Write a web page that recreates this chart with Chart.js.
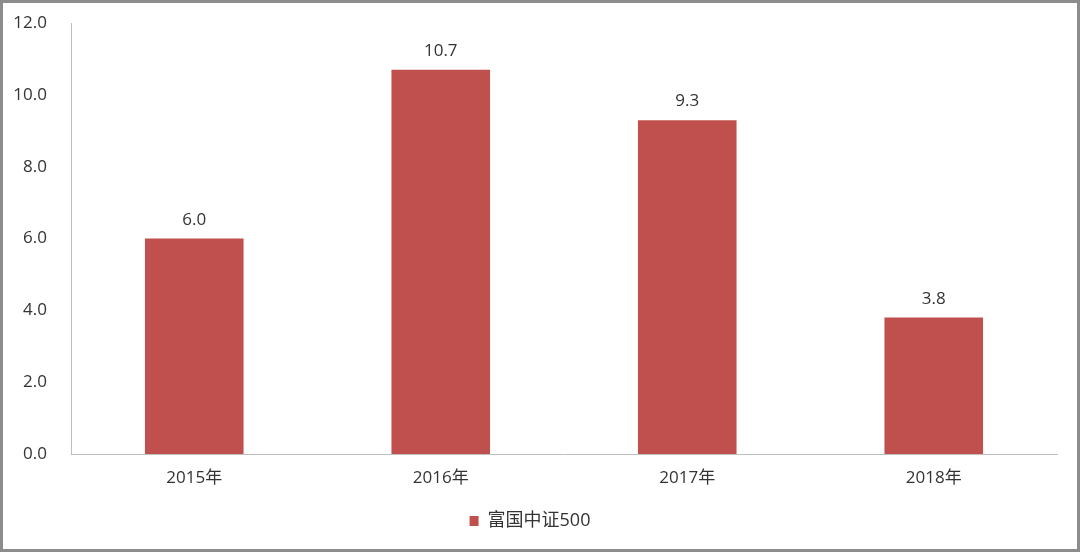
<!DOCTYPE html>
<html>
<head>
<meta charset="utf-8">
<script src="https://cdn.jsdelivr.net/npm/chart.js@4/dist/chart.umd.min.js"></script>
<style>
html,body{margin:0;padding:0;background:#fff;}
#wrap{width:1080px;height:552px;box-sizing:border-box;border:3px solid #8c8c8c;background:#fff;overflow:hidden;}
#c{display:block;margin-top:-6px;}
</style>
</head>
<body>
<div id="wrap"><canvas id="c" width="1074" height="552"></canvas></div>
<script>
const categories = ["2015年", "2016年", "2017年", "2018年"];
const seriesName = "富国中证500";
const values = [6.0, 10.7, 9.3, 3.8];
const yMin = 0, yMax = 12, yStep = 2;

const FONT = '"Open Sans", "Noto Sans CJK SC", sans-serif';
const TXT = '#333333';

const valueLabels = {
  id: 'valueLabels',
  afterDatasetsDraw(chart) {
    const ctx = chart.ctx;
    const meta = chart.getDatasetMeta(0);
    ctx.save();
    ctx.font = '17px ' + FONT;
    ctx.fillStyle = TXT;
    ctx.textAlign = 'center';
    ctx.textBaseline = 'bottom';
    meta.data.forEach((bar, i) => {
      ctx.fillText(values[i].toFixed(1), bar.x, bar.y - 10);
    });
    ctx.restore();
  }
};

new Chart(document.getElementById('c'), {
  type: 'bar',
  data: {
    labels: categories,
    datasets: [{
      label: seriesName,
      data: values,
      backgroundColor: '#C0504D',
      borderWidth: 0,
      categoryPercentage: 0.8,
      barPercentage: 0.5
    }]
  },
  options: {
    responsive: false,
    animation: false,
    layout: { padding: { top: 10, right: 20, left: 0, bottom: 9 } },
    scales: {
      x: {
        grid: { display: false },
        border: { display: true, color: '#BFBFBF', width: 1 },
        ticks: { color: TXT, font: { family: FONT, size: 17 }, padding: 6 },
        afterFit(s) { s.height = 48; }
      },
      y: {
        min: yMin, max: yMax,
        grid: { display: false },
        border: { display: true, color: '#BFBFBF', width: 1 },
        ticks: {
          stepSize: yStep,
          color: TXT,
          font: { family: FONT, size: 17 },
          padding: 16,
          callback: v => Number(v).toFixed(1)
        },
        afterFit(s) { s.width = 68; }
      }
    },
    plugins: {
      legend: {
        position: 'bottom',
        labels: {
          color: TXT,
          font: { family: FONT, size: 18 },
          boxWidth: 9, boxHeight: 10,
          padding: 10
        }
      },
      tooltip: { enabled: false }
    }
  },
  plugins: [valueLabels]
});
</script>
</body>
</html>
